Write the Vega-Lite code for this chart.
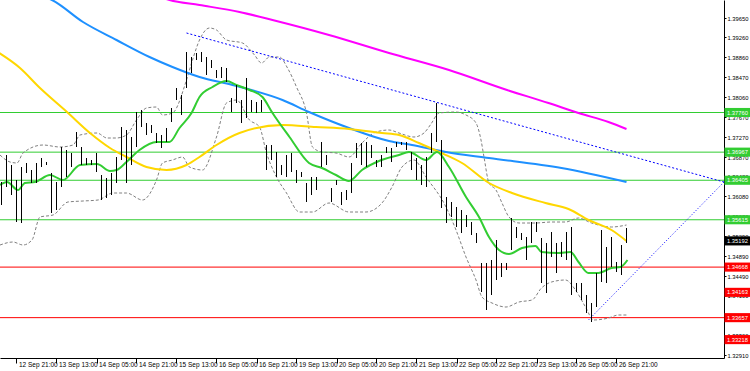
{
 "$schema": "https://vega.github.io/schema/vega-lite/v6.json",
 "width": 724, "height": 358,
 "autosize": "none",
 "padding": {"left": 0, "top": 0, "right": 26, "bottom": 13},
 "background": "white",
 "config": {"view": {"stroke": null}, "axis": {"grid": false, "labelFont": "Liberation Sans", "labelFontSize": 6.5, "labelColor": "#000", "domainColor": "#000", "tickColor": "#000"}},
 "datasets": {
  "bars": [
   {"i":-3,"v":1.3637,"lo":1.3591},{"i":-2,"v":1.3691,"lo":1.3627},{"i":-1,"v":1.3671,"lo":1.3611},{"i":0,"v":1.3641,"lo":1.3557},
   {"i":1,"v":1.3667,"lo":1.3555},{"i":2,"v":1.3675,"lo":1.3655},{"i":3,"v":1.3661,"lo":1.3635},{"i":4,"v":1.3675,"lo":1.3635},
   {"i":5,"v":1.3685,"lo":1.3667},{"i":6,"v":1.3677,"lo":1.3671},{"i":7,"v":1.3655,"lo":1.3575},{"i":8,"v":1.3637,"lo":1.3581},
   {"i":9,"v":1.3707,"lo":1.3627},{"i":10,"v":1.3701,"lo":1.3647},{"i":11,"v":1.3695,"lo":1.3667},{"i":12,"v":1.3737,"lo":1.3707},
   {"i":13,"v":1.3707,"lo":1.3671},{"i":14,"v":1.3685,"lo":1.3671},{"i":15,"v":1.3681,"lo":1.3671},{"i":16,"v":1.3695,"lo":1.3657},
   {"i":17,"v":1.3651,"lo":1.3601},{"i":18,"v":1.3645,"lo":1.3605},{"i":19,"v":1.3655,"lo":1.3611},{"i":20,"v":1.3687,"lo":1.3635},
   {"i":21,"v":1.3747,"lo":1.3681},{"i":22,"v":1.3741,"lo":1.3635},{"i":23,"v":1.3727,"lo":1.3671},{"i":24,"v":1.3777,"lo":1.3707},
   {"i":25,"v":1.3781,"lo":1.3747},{"i":26,"v":1.3755,"lo":1.3731},{"i":27,"v":1.3751,"lo":1.3735},{"i":28,"v":1.3735,"lo":1.3715},
   {"i":29,"v":1.3731,"lo":1.3705},{"i":30,"v":1.3745,"lo":1.3717},{"i":31,"v":1.3785,"lo":1.3757},{"i":32,"v":1.3825,"lo":1.3801},
   {"i":33,"v":1.3811,"lo":1.3771},{"i":34,"v":1.3897,"lo":1.3825},{"i":35,"v":1.3887,"lo":1.3855},{"i":36,"v":1.3895,"lo":1.3881},
   {"i":37,"v":1.3897,"lo":1.3877},{"i":38,"v":1.3887,"lo":1.3851},{"i":39,"v":1.3881,"lo":1.3865},{"i":40,"v":1.3861,"lo":1.3845},
   {"i":41,"v":1.3867,"lo":1.3845},{"i":42,"v":1.3865,"lo":1.3837},{"i":43,"v":1.3805,"lo":1.3777},{"i":44,"v":1.3831,"lo":1.3795},
   {"i":45,"v":1.3801,"lo":1.3755},{"i":46,"v":1.3845,"lo":1.3765},{"i":47,"v":1.3801,"lo":1.3777},{"i":48,"v":1.3797,"lo":1.3775},
   {"i":49,"v":1.3801,"lo":1.3777},{"i":50,"v":1.3711,"lo":1.3661},{"i":51,"v":1.3711,"lo":1.3681},{"i":52,"v":1.3697,"lo":1.3647},
   {"i":53,"v":1.3671,"lo":1.3651},{"i":54,"v":1.3691,"lo":1.3647},{"i":55,"v":1.3695,"lo":1.3657},{"i":56,"v":1.3661,"lo":1.3635},
   {"i":57,"v":1.3657,"lo":1.3647},{"i":58,"v":1.3635,"lo":1.3597},{"i":59,"v":1.3647,"lo":1.3611},{"i":60,"v":1.3647,"lo":1.3621},
   {"i":61,"v":1.3717,"lo":1.3667},{"i":62,"v":1.3691,"lo":1.3671},{"i":63,"v":1.3625,"lo":1.3597},{"i":64,"v":1.3641,"lo":1.3631},
   {"i":65,"v":1.3617,"lo":1.3591},{"i":66,"v":1.3621,"lo":1.3601},{"i":67,"v":1.3675,"lo":1.3615},{"i":68,"v":1.3715,"lo":1.3685},
   {"i":69,"v":1.3715,"lo":1.3671},{"i":70,"v":1.3717,"lo":1.3667},{"i":71,"v":1.3711,"lo":1.3685},{"i":72,"v":1.3681,"lo":1.3667},
   {"i":73,"v":1.3691,"lo":1.3667},{"i":74,"v":1.3707,"lo":1.3695},{"i":75,"v":1.3705,"lo":1.3677},{"i":76,"v":1.3717,"lo":1.3707},
   {"i":77,"v":1.3717,"lo":1.3711},{"i":78,"v":1.3717,"lo":1.3701},{"i":79,"v":1.3697,"lo":1.3661},{"i":80,"v":1.3685,"lo":1.3641},
   {"i":81,"v":1.3671,"lo":1.3631},{"i":82,"v":1.3687,"lo":1.3627},{"i":83,"v":1.3735,"lo":1.3695},{"i":84,"v":1.3795,"lo":1.3717},
   {"i":85,"v":1.3721,"lo":1.3585},{"i":86,"v":1.3607,"lo":1.3555},{"i":87,"v":1.3597,"lo":1.3567},{"i":88,"v":1.3587,"lo":1.3547},
   {"i":89,"v":1.3581,"lo":1.3535},{"i":90,"v":1.3571,"lo":1.3547},{"i":91,"v":1.3557,"lo":1.3531},{"i":92,"v":1.3535,"lo":1.3515},
   {"i":93,"v":1.3475,"lo":1.3417},{"i":94,"v":1.3475,"lo":1.3381},{"i":95,"v":1.3481,"lo":1.3411},{"i":96,"v":1.3521,"lo":1.3441},
   {"i":97,"v":1.3475,"lo":1.3447},{"i":98,"v":1.3475,"lo":1.3461},{"i":99,"v":1.3565,"lo":1.3501},{"i":100,"v":1.3547,"lo":1.3525},
   {"i":101,"v":1.3535,"lo":1.3521},{"i":102,"v":1.3527,"lo":1.3481},{"i":103,"v":1.3557,"lo":1.3515},{"i":104,"v":1.3557,"lo":1.3537},
   {"i":105,"v":1.3525,"lo":1.3435},{"i":106,"v":1.3515,"lo":1.3415},{"i":107,"v":1.3537,"lo":1.3487},{"i":108,"v":1.3515,"lo":1.3455},
   {"i":109,"v":1.3517,"lo":1.3487},{"i":110,"v":1.3537,"lo":1.3481},{"i":111,"v":1.3547,"lo":1.3411},{"i":112,"v":1.3435,"lo":1.3417},
   {"i":113,"v":1.3435,"lo":1.3401},{"i":114,"v":1.3411,"lo":1.3375},{"i":115,"v":1.3395,"lo":1.3357},{"i":116,"v":1.3455,"lo":1.3387},
   {"i":117,"v":1.3541,"lo":1.3437},{"i":118,"v":1.3507,"lo":1.3435},{"i":119,"v":1.3527,"lo":1.3467},{"i":120,"v":1.3477,"lo":1.3457},
   {"i":121,"v":1.3511,"lo":1.3451},{"i":122,"v":1.3545,"lo":1.3515}
  ],
  "ma": [
   {"s":"MA200","i":26.6,"v":1.4015},{"s":"MA200","i":30.6,"v":1.4001},{"s":"MA200","i":36.6,"v":1.3991},{"s":"MA200","i":44.6,"v":1.3977},
   {"s":"MA200","i":51.2,"v":1.3961},{"s":"MA200","i":62.5,"v":1.3931},{"s":"MA200","i":74.5,"v":1.3895},{"s":"MA200","i":86.5,"v":1.3861},
   {"s":"MA200","i":98.1,"v":1.3821},{"s":"MA200","i":106.4,"v":1.3795},{"s":"MA200","i":112.4,"v":1.3775},{"s":"MA200","i":118.4,"v":1.3757},
   {"s":"MA200","i":122,"v":1.3743},
   {"s":"MA100","i":5.7,"v":1.4007},{"s":"MA100","i":7.1,"v":1.4001},{"s":"MA100","i":13.3,"v":1.3957},{"s":"MA100","i":20,"v":1.3921},
   {"s":"MA100","i":26.6,"v":1.3887},{"s":"MA100","i":31.2,"v":1.3867},{"s":"MA100","i":36.6,"v":1.3847},{"s":"MA100","i":43.2,"v":1.3831},
   {"s":"MA100","i":53.2,"v":1.3801},{"s":"MA100","i":58.5,"v":1.3777},{"s":"MA100","i":66.5,"v":1.3745},{"s":"MA100","i":74.5,"v":1.3719},
   {"s":"MA100","i":79.1,"v":1.3711},{"s":"MA100","i":85.9,"v":1.3697},{"s":"MA100","i":94.5,"v":1.3685},{"s":"MA100","i":109,"v":1.3665},
   {"s":"MA100","i":122,"v":1.3637},
   {"s":"MA50","i":-4.1,"v":1.3899},{"s":"MA50","i":0.7,"v":1.3865},{"s":"MA50","i":4.7,"v":1.3825},{"s":"MA50","i":10.1,"v":1.3777},
   {"s":"MA50","i":14.7,"v":1.3735},{"s":"MA50","i":18.7,"v":1.3705},{"s":"MA50","i":22,"v":1.3687},{"s":"MA50","i":26,"v":1.3667},
   {"s":"MA50","i":30,"v":1.3661},{"s":"MA50","i":34,"v":1.3671},{"s":"MA50","i":36.6,"v":1.3687},{"s":"MA50","i":40,"v":1.3711},
   {"s":"MA50","i":44.6,"v":1.3735},{"s":"MA50","i":53.2,"v":1.3751},{"s":"MA50","i":59.9,"v":1.3747},{"s":"MA50","i":66.5,"v":1.3743},
   {"s":"MA50","i":73.1,"v":1.3735},{"s":"MA50","i":76.5,"v":1.3731},{"s":"MA50","i":80.5,"v":1.3715},{"s":"MA50","i":84.5,"v":1.3697},
   {"s":"MA50","i":89.1,"v":1.3675},{"s":"MA50","i":94.5,"v":1.3635},{"s":"MA50","i":99.1,"v":1.3615},{"s":"MA50","i":105.8,"v":1.3595},
   {"s":"MA50","i":110.4,"v":1.3583},{"s":"MA50","i":114.4,"v":1.3561},{"s":"MA50","i":119,"v":1.3541},{"s":"MA50","i":122,"v":1.3519},
   {"s":"MA20","i":-3.3,"v":1.3631},{"s":"MA20","i":-1.9,"v":1.3637},{"s":"MA20","i":0.3,"v":1.3621},{"s":"MA20","i":1.7,"v":1.3635},
   {"s":"MA20","i":3.7,"v":1.3637},{"s":"MA20","i":6.7,"v":1.3651},{"s":"MA20","i":9.3,"v":1.3641},{"s":"MA20","i":12.7,"v":1.3671},
   {"s":"MA20","i":16.1,"v":1.3673},{"s":"MA20","i":18.7,"v":1.3659},{"s":"MA20","i":20,"v":1.3661},{"s":"MA20","i":22,"v":1.3677},
   {"s":"MA20","i":24.6,"v":1.3701},{"s":"MA20","i":28,"v":1.3717},{"s":"MA20","i":30.6,"v":1.3717},{"s":"MA20","i":32.6,"v":1.3745},
   {"s":"MA20","i":35,"v":1.3775},{"s":"MA20","i":36.6,"v":1.3807},{"s":"MA20","i":39.2,"v":1.3827},{"s":"MA20","i":42,"v":1.3839},
   {"s":"MA20","i":44,"v":1.3831},{"s":"MA20","i":46.6,"v":1.3821},{"s":"MA20","i":49.2,"v":1.3807},{"s":"MA20","i":51.2,"v":1.3775},
   {"s":"MA20","i":54.6,"v":1.3727},{"s":"MA20","i":58.5,"v":1.3675},{"s":"MA20","i":61.1,"v":1.3665},{"s":"MA20","i":63.9,"v":1.3651},
   {"s":"MA20","i":66.5,"v":1.3639},{"s":"MA20","i":69.1,"v":1.3661},{"s":"MA20","i":72.5,"v":1.3679},{"s":"MA20","i":76.5,"v":1.3691},
   {"s":"MA20","i":78.5,"v":1.3697},{"s":"MA20","i":81.9,"v":1.3681},{"s":"MA20","i":84.1,"v":1.3697},{"s":"MA20","i":86.5,"v":1.3667},
   {"s":"MA20","i":89.9,"v":1.3607},{"s":"MA20","i":92.5,"v":1.3567},{"s":"MA20","i":94.5,"v":1.3527},{"s":"MA20","i":96.5,"v":1.3501},
   {"s":"MA20","i":98.5,"v":1.3493},{"s":"MA20","i":101.1,"v":1.3505},{"s":"MA20","i":103.8,"v":1.3509},{"s":"MA20","i":105,"v":1.3497},
   {"s":"MA20","i":108.4,"v":1.3495},{"s":"MA20","i":110.8,"v":1.3497},{"s":"MA20","i":112.4,"v":1.3477},{"s":"MA20","i":114.4,"v":1.3455},
   {"s":"MA20","i":116.4,"v":1.3455},{"s":"MA20","i":119,"v":1.3465},{"s":"MA20","i":120.8,"v":1.3467},{"s":"MA20","i":122.2,"v":1.3481}
  ],
  "bands": [
   {"s":"u","i":-3.3,"v":1.3691},{"s":"u","i":-1.3,"v":1.3677},{"s":"u","i":0.1,"v":1.3675},{"s":"u","i":1.3,"v":1.3695},
   {"s":"u","i":5.3,"v":1.3711},{"s":"u","i":8.7,"v":1.3707},{"s":"u","i":11.3,"v":1.3711},{"s":"u","i":12.7,"v":1.3731},
   {"s":"u","i":16.1,"v":1.3735},{"s":"u","i":18.1,"v":1.3725},{"s":"u","i":20,"v":1.3725},{"s":"u","i":22,"v":1.3731},
   {"s":"u","i":24,"v":1.3761},{"s":"u","i":26,"v":1.3785},{"s":"u","i":28,"v":1.3787},{"s":"u","i":29.2,"v":1.3771},
   {"s":"u","i":31.2,"v":1.3775},{"s":"u","i":34,"v":1.3841},{"s":"u","i":35.2,"v":1.3881},{"s":"u","i":36.6,"v":1.3921},
   {"s":"u","i":38.6,"v":1.3945},{"s":"u","i":40,"v":1.3941},{"s":"u","i":42,"v":1.3921},{"s":"u","i":45.2,"v":1.3915},
   {"s":"u","i":47.6,"v":1.3891},{"s":"u","i":49,"v":1.3875},{"s":"u","i":50.6,"v":1.3887},{"s":"u","i":52.6,"v":1.3887},
   {"s":"u","i":54.2,"v":1.3865},{"s":"u","i":56,"v":1.3827},{"s":"u","i":58,"v":1.3775},{"s":"u","i":59.2,"v":1.3707},
   {"s":"u","i":61.1,"v":1.3697},{"s":"u","i":63.9,"v":1.3695},{"s":"u","i":66.5,"v":1.3687},{"s":"u","i":69.1,"v":1.3715},
   {"s":"u","i":71.9,"v":1.3737},{"s":"u","i":74.5,"v":1.3741},{"s":"u","i":76.5,"v":1.3735},{"s":"u","i":79.5,"v":1.3727},
   {"s":"u","i":81.5,"v":1.3735},{"s":"u","i":82.9,"v":1.3753},{"s":"u","i":84.5,"v":1.3775},{"s":"u","i":87.9,"v":1.3777},
   {"s":"u","i":89.9,"v":1.3771},{"s":"u","i":91.9,"v":1.3755},{"s":"u","i":92.9,"v":1.3721},{"s":"u","i":93.5,"v":1.3687},
   {"s":"u","i":94.5,"v":1.3635},{"s":"u","i":95.9,"v":1.3621},{"s":"u","i":97.1,"v":1.3595},{"s":"u","i":98.5,"v":1.3567},
   {"s":"u","i":100.5,"v":1.3555},{"s":"u","i":103.8,"v":1.3555},{"s":"u","i":107,"v":1.3557},{"s":"u","i":109.8,"v":1.3557},
   {"s":"u","i":112.4,"v":1.3565},{"s":"u","i":115,"v":1.3555},{"s":"u","i":119,"v":1.3547},{"s":"u","i":122,"v":1.3551},
   {"s":"l","i":-3.3,"v":1.3511},{"s":"l","i":-0.7,"v":1.3517},{"s":"l","i":1.3,"v":1.3511},{"s":"l","i":3.1,"v":1.3521},
   {"s":"l","i":4.7,"v":1.3567},{"s":"l","i":7.3,"v":1.3571},{"s":"l","i":10.3,"v":1.3597},{"s":"l","i":13.3,"v":1.3599},
   {"s":"l","i":16.3,"v":1.3601},{"s":"l","i":19.3,"v":1.3615},{"s":"l","i":22,"v":1.3615},{"s":"l","i":25.2,"v":1.3601},
   {"s":"l","i":28,"v":1.3641},{"s":"l","i":29.2,"v":1.3675},{"s":"l","i":31.2,"v":1.3681},{"s":"l","i":33.2,"v":1.3687},
   {"s":"l","i":34.6,"v":1.3667},{"s":"l","i":37.2,"v":1.3661},{"s":"l","i":40,"v":1.3727},{"s":"l","i":42,"v":1.3795},
   {"s":"l","i":44,"v":1.3801},{"s":"l","i":46.6,"v":1.3761},{"s":"l","i":48.6,"v":1.3747},{"s":"l","i":50,"v":1.3695},
   {"s":"l","i":52,"v":1.3647},{"s":"l","i":54,"v":1.3615},{"s":"l","i":56.6,"v":1.3577},{"s":"l","i":59.2,"v":1.3577},
   {"s":"l","i":62.5,"v":1.3595},{"s":"l","i":66.5,"v":1.3577},{"s":"l","i":69.9,"v":1.3577},{"s":"l","i":73.1,"v":1.3595},
   {"s":"l","i":75.1,"v":1.3627},{"s":"l","i":77.1,"v":1.3667},{"s":"l","i":79.5,"v":1.3681},{"s":"l","i":81.9,"v":1.3647},
   {"s":"l","i":85.9,"v":1.3587},{"s":"l","i":87.9,"v":1.3541},{"s":"l","i":89.9,"v":1.3487},{"s":"l","i":91.9,"v":1.3441},
   {"s":"l","i":93.1,"v":1.3407},{"s":"l","i":95.1,"v":1.3395},{"s":"l","i":97.9,"v":1.3387},{"s":"l","i":100.5,"v":1.3397},
   {"s":"l","i":103.1,"v":1.3401},{"s":"l","i":105,"v":1.3425},{"s":"l","i":107,"v":1.3437},{"s":"l","i":109.8,"v":1.3441},
   {"s":"l","i":111.8,"v":1.3421},{"s":"l","i":113.8,"v":1.3387},{"s":"l","i":115.4,"v":1.3361},{"s":"l","i":118.4,"v":1.3365},
   {"s":"l","i":120.4,"v":1.3371},{"s":"l","i":122,"v":1.3371}
  ],
  "trend": [
   {"t":"a","i":34,"v":1.3935},{"t":"a","i":141.5,"v":1.3637},
   {"t":"b","i":114.4,"v":1.3361},{"t":"b","i":141.5,"v":1.3637}
  ],
  "levels": [
   {"c":"g","v":1.3776},{"c":"g","v":1.36967},{"c":"g","v":1.36405},{"c":"g","v":1.35615},
   {"c":"r","v":1.34668},{"c":"r","v":1.33657}
  ],
  "tags": [
   {"c":"g","v":1.3776},{"c":"g","v":1.36967},{"c":"g","v":1.36405},{"c":"g","v":1.35615},
   {"c":"k","v":1.35192},{"c":"r","v":1.34668},{"c":"r","v":1.34163},{"c":"r","v":1.33657},{"c":"r","v":1.33218}
  ]
 },
 "encoding": {
  "y": {"field": "v", "type": "quantitative",
   "scale": {"domain": [1.3285, 1.4001], "nice": false, "zero": false},
   "axis": {"orient": "right", "title": null, "values": [1.3965,1.3926,1.3886,1.3847,1.3806,1.3767,1.3727,1.3687,1.3648,1.3608,1.3568,1.3529,1.3489,1.3449,1.341,1.337,1.333,1.3291],
    "format": ".5f", "tickSize": 2, "labelPadding": 1, "labelFontSize": 5.8, "labelOverlap": false, "labelBaseline": "middle", "labelFlush": false}}
 },
 "resolve": {"scale": {"color": "independent", "strokeDash": "independent"}},
 "layer": [
  {"data": {"name": "levels"}, "mark": {"type": "rule", "strokeWidth": 1},
   "encoding": {"color": {"field": "c", "type": "nominal", "scale": {"domain": ["g","r"], "range": ["#32cd32","#ff0000"]}, "legend": null}}},
  {"data": {"name": "bands"}, "mark": {"type": "line", "color": "#808080", "strokeWidth": 1, "strokeDash": [3,2], "interpolate": "monotone", "clip": true},
   "encoding": {"x": {"field": "i", "type": "quantitative", "axis": {"title": null}}, "detail": {"field": "s"}}},
  {"data": {"name": "ma"}, "mark": {"type": "line", "strokeWidth": 2, "interpolate": "monotone", "clip": true},
   "encoding": {"x": {"field": "i", "type": "quantitative", "axis": {"title": null}},
    "color": {"field": "s", "type": "nominal", "scale": {"domain": ["MA200","MA100","MA50","MA20"], "range": ["#ff00ff","#1e90ff","#ffd700","#32cd32"]}, "legend": null}}},
  {"data": {"name": "trend"}, "mark": {"type": "line", "color": "#0000ff", "strokeWidth": 1, "clip": true},
   "encoding": {"x": {"field": "i", "type": "quantitative", "axis": {"title": null}}, "detail": {"field": "t"},
    "strokeDash": {"field": "t", "type": "nominal", "scale": {"domain": ["a","b"], "range": [[2,2],[1,2]]}, "legend": null}}},
  {"data": {"name": "bars"}, "mark": {"type": "rule", "color": "#000000", "strokeWidth": 1},
   "encoding": {
    "x": {"field": "i", "type": "quantitative",
     "scale": {"domain": [-3.3, 141.5], "nice": false, "zero": false},
     "axis": {"title": null, "values": [-8,0,8,16,24,32,40,48,56,64,72,80,88,96,104,112,120],
      "labelExpr": "['12 Sep 05:00','12 Sep 21:00','13 Sep 13:00','14 Sep 05:00','14 Sep 21:00','15 Sep 13:00','16 Sep 05:00','16 Sep 21:00','19 Sep 13:00','20 Sep 05:00','20 Sep 21:00','21 Sep 13:00','22 Sep 05:00','22 Sep 21:00','23 Sep 13:00','26 Sep 05:00','26 Sep 21:00'][(datum.value + 8) / 8]",
      "labelAlign": "left", "labelOffset": 2, "tickSize": 5, "labelPadding": -2, "labelOverlap": false, "labelFlush": false, "labelBound": false}},
    "y2": {"field": "lo"}}},
  {"data": {"name": "tags"}, "mark": {"type": "point", "filled": true, "opacity": 1, "strokeWidth": 0, "size": 676, "shape": "M-1,-0.35L1,-0.35L1,0.35L-1,0.35Z"},
   "encoding": {"x": {"datum": 144.2, "type": "quantitative", "axis": {"title": null}},
    "color": {"field": "c", "type": "nominal", "scale": {"domain": ["g","k","r"], "range": ["#32cd32","#000000","#ff0000"]}, "legend": null}}},
  {"data": {"name": "tags"}, "mark": {"type": "text", "color": "#ffffff", "font": "Liberation Sans", "fontSize": 5.8, "align": "center", "baseline": "middle"},
   "encoding": {"x": {"datum": 144.2, "type": "quantitative", "axis": {"title": null}},
    "text": {"field": "v", "type": "quantitative", "format": ".5f"}}}
 ]
}
